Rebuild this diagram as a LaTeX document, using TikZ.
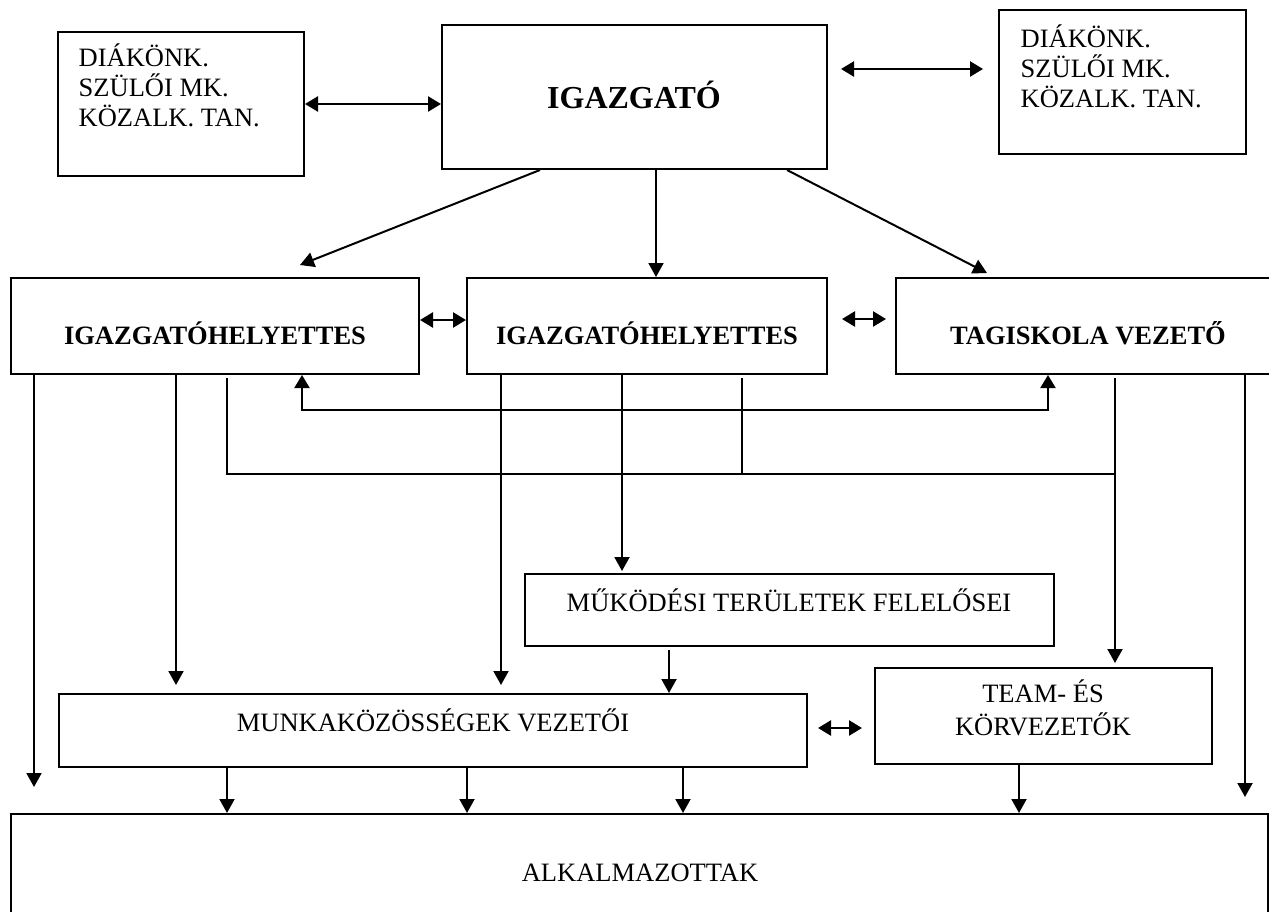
\documentclass[tikz,border=0pt]{standalone}
\usepackage{fontspec}
\setmainfont{Liberation Serif}
\usetikzlibrary{arrows.meta,positioning}
\tikzset{
    box/.style={draw, line width=2pt, inner sep=0pt},
    lbl/.style={inner sep=0pt, font=\fontsize{26.5}{30}\selectfont},
    head/.style={inner sep=0pt, anchor=base, font=\fontsize{26.5}{30}\selectfont\bfseries},
    conn/.style={line width=2pt},
    arr/.style={conn, -{Triangle[length=14pt,width=15pt]}},
    darr/.style={line width=2.5pt, {Triangle[length=13pt,width=15pt]}-{Triangle[length=13pt,width=15pt]}},
}

\begin{document}
\begin{tikzpicture}[x=1pt,y=-1pt]
    \useasboundingbox (0,0) rectangle (1269,912);
    \clip (0,0) rectangle (1269,912);
    % dobozok
    \node[box, minimum width=246pt, minimum height=144pt] (dl) at (181,104) {};
    \node[box, minimum width=385pt, minimum height=144pt] (ig) at (634.5,97) {};
    \node[box, minimum width=247pt, minimum height=144pt] (dr) at (1122.5,82) {};
    \node[box, minimum width=408pt, minimum height=96pt] (h1) at (215,326) {};
    \node[box, minimum width=360pt, minimum height=96pt] (h2) at (647,326) {};
    \node[box, minimum width=384pt, minimum height=96pt] (tv) at (1088,326) {};
    \node[box, minimum width=529pt, minimum height=72pt] (mu) at (789.5,610) {};
    \node[box, minimum width=748pt, minimum height=73pt] (mk) at (433,730.5) {};
    \node[box, minimum width=337pt, minimum height=96pt] (tk) at (1043.5,716) {};
    \node[box, minimum width=1257pt, minimum height=121pt] (alk) at (639.5,874.5) {};
    % szovegek
    \node[lbl, anchor=north west, align=left] (dlt) at (78.5,41.8) {\rule{0pt}{25pt}DIÁKÖNK.\\SZÜLŐI MK.\\KÖZALK. TAN.};
    \node[lbl, anchor=north west, align=left] (drt) at (1020.5,22.8) {\rule{0pt}{25pt}DIÁKÖNK.\\SZÜLŐI MK.\\KÖZALK. TAN.};
    \node[head, font=\fontsize{32}{36}\selectfont\bfseries] (igt) at (634,108.6) {IGAZGATÓ};
    \node[head] (h1t) at (215,344) {IGAZGATÓHELYETTES};
    \node[head] (h2t) at (647,344) {IGAZGATÓHELYETTES};
    \node[head] (tvt) at (1088,344) {TAGISKOLA VEZETŐ};
    \node[lbl, anchor=base] (mut) at (789,611) {MŰKÖDÉSI TERÜLETEK FELELŐSEI};
    \node[lbl, anchor=base] (mkt) at (433,731) {MUNKAKÖZÖSSÉGEK VEZETŐI};
    \node[lbl, anchor=north, align=center, font=\fontsize{26.5}{33}\selectfont] (tkt) at (1043,676.8) {\rule{0pt}{25pt}TEAM- ÉS\\KÖRVEZETŐK};
    \node[lbl, anchor=base] (alkt) at (640,881) {ALKALMAZOTTAK};
    % szabad vegpontok
    \coordinate (igr) at (841,69);
    \coordinate (drl) at (983,69);
    \coordinate (t1) at (300,265);
    \coordinate (t3) at (987,273);
    \coordinate (vl) at (302,410);
    \coordinate (vr) at (1048,410);
    \coordinate (bus) at (1115,474);
    % felso kapcsolatok
    \draw[darr] (dl.east) -- (dl.east -| ig.west);
    \draw[darr] (igr) -- (drl);
    \draw[arr] (ig.south -| 540,0) -- (t1);
    \draw[arr] (ig.south -| 656,0) -- (h2.north -| 656,0);
    \draw[arr] (ig.south -| 787,0) -- (t3);
    \draw[darr] ([yshift=6pt]h1.east) -- ([yshift=6pt]h2.west);
    \draw[darr] ([xshift=14pt,yshift=7pt]h2.east) -- ([xshift=-9pt,yshift=7pt]tv.west);
    % also kapcsolatok
    \draw[arr, shorten >=26pt] (h1.south -| 34,0) -- (alk.north -| 34,0);
    \draw[arr, shorten >=8pt] (h1.south -| 176,0) -- (mk.north -| 176,0);
    \draw[conn, shorten <=3pt] (h1.south -| 227,0) |- (bus);
    \draw[darr, line width=2pt] (h1.south -| 302,0) -- (vl) -- (vr) -- (tv.south -| 1048,0);
    \draw[arr, shorten >=8pt] (h2.south -| 501,0) -- (mk.north -| 501,0);
    \draw[arr, shorten >=2pt] (h2.south -| 622,0) -- (mu.north -| 622,0);
    \draw[conn, shorten <=3pt] (h2.south -| 742,0) -- (bus -| 742,0);
    \draw[arr, shorten <=3pt, shorten >=4pt] (tv.south -| 1115,0) -- (tk.north -| 1115,0);
    \draw[arr, shorten >=16pt] (tv.south -| 1245,0) -- (alk.north -| 1245,0);
    \draw[arr, shorten <=3pt] (mu.south -| 669,0) -- (mk.north -| 669,0);
    \draw[darr] ([xshift=10pt,yshift=2.5pt]mk.east) -- ([xshift=-12pt,yshift=-12pt]tk.west);
    \foreach \x in {227,467,683}
        \draw[arr] (mk.south -| \x,0) -- (alk.north -| \x,0);
    \draw[arr] (tk.south -| 1019,0) -- (alk.north -| 1019,0);
\end{tikzpicture}
\end{document}
